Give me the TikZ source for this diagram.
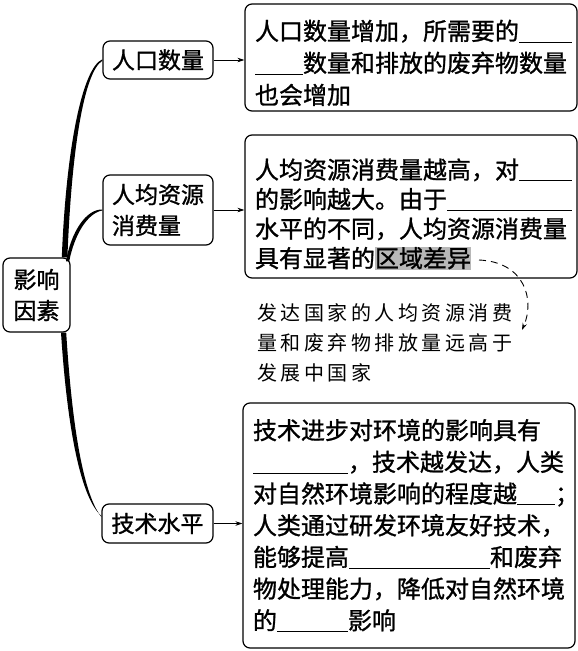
\documentclass[tikz,border=0pt]{standalone}
\usepackage{fontspec}
\setmainfont[FakeBold=1.1]{Noto Sans CJK SC}
\newfontfamily\annfont[LetterSpace=17.5]{Noto Sans CJK SC}
\usetikzlibrary{arrows.meta,calc}
\definecolor{hlgray}{gray}{0.72}
\newcommand\blank[1]{\rule[-2.5pt]{#1}{0.8pt}}
\newcommand\hlbox[1]{{\setlength\fboxsep{0pt}\colorbox{hlgray}{\rule[-3pt]{0pt}{22pt}#1}}}
\newcommand\lift[1]{\rule{0pt}{#1}}
\begin{document}
\begin{tikzpicture}[x=1pt,y=-1pt,
  every node/.style={inner sep=0pt},
  frame/.style={draw, line width=1.2pt, rounded corners=7pt, fill=white},
  keynode/.style={frame, font=\fontsize{23}{31}\selectfont, align=left},
  infobox/.style={frame, inner xsep=10pt, text width=312pt, align=left},
  link/.style={line width=0.9pt, -{Stealth[length=7pt,width=4.5pt]}},
  branch/.style={fill=black},
  note/.style={line width=0.9pt, dash pattern=on 7pt off 5pt, -{Stealth[length=7pt,width=4.5pt]}}
]
\useasboundingbox (0,0) rectangle (578,651);

% key nodes
\node[keynode, minimum width=67pt, minimum height=74pt] (root) at (36.5,295) {影响\\因素};
\node[keynode, minimum width=110pt, minimum height=38pt] (n1) at (158,60) {人口数量};
\node[keynode, minimum width=110pt, minimum height=70pt, text width=92pt] (n2) at (158,210) {人均资源\\消费量};
\node[keynode, minimum width=111pt, minimum height=39pt] (n3) at (157.5,523.5) {技术水平};

% info boxes
\node[infobox, minimum height=107pt, font=\fontsize{24}{32}\selectfont] (b1) at (411,57.5)
  {\lift{31pt}人口数量增加，所需要的\blank{53pt}\\
   \blank{48pt}数量和排放的废弃物数量\\
   也会增加};
\node[infobox, minimum height=143pt, font=\fontsize{24}{29.5}\selectfont] (b2) at (411,206.5)
  {\lift{36pt}人均资源消费量越高，对\blank{53pt}\\
   的影响越大。由于\blank{125pt}\\
   水平的不同，人均资源消费量\\
   具有显著的\hlbox{区域差异}};
\node[infobox, minimum height=245pt, font=\fontsize{24}{31.7}\selectfont] (b3) at (409,525.5)
  {技术进步对环境的影响具有\\
   \blank{95pt}，技术越发达，人类\\
   对自然环境影响的程度越\blank{38pt}\makebox[12pt][l]{；}\\
   人类通过研发环境友好技术，\\
   能够提高\blank{141pt}和废弃\\
   物处理能力，降低对自然环境\\
   的\blank{71pt}影响};

% annotation
\node[anchor=west, align=left, font=\annfont\fontsize{20}{30}\selectfont] (ann) at (257,343)
  {发达国家的人均资源消费\\量和废弃物排放量远高于\\发展中国家};

% tapered branches
\coordinate (s1) at ($(root.north east)+(-6,0)$);
\coordinate (s2) at ($(root.north east)+(-3,4)$);
\coordinate (s3) at ($(root.south east)+(-7,0)$);
\fill[branch] ($(s1)+(-2.8,0)$) .. controls (66,150) and (82,68) .. ($(n1.west)+(0,-0.7)$)
  -- ($(n1.west)+(0,0.7)$) .. controls (84,72) and (71.5,150) .. ($(s1)+(2.8,0)$) -- cycle;
\fill[branch] ($(s2)+(-1.6,0)$) .. controls (71,232) and (86,209) .. ($(n2.west)+(0,-0.5)$)
  -- ($(n2.west)+(0,0.5)$) .. controls (87,213) and (74,236) .. ($(s2)+(1.6,0)$) -- cycle;
\fill[branch] ($(s3)+(-2.6,0)$) .. controls (67,425) and (80,497) .. ($(n3.west)+(0,-7.5)$)
  -- ($(n3.west)+(0,-6.5)$) .. controls (83,494) and (72,425) .. ($(s3)+(2.6,0)$) -- cycle;

% arrows
\draw[link] (n1.east) -- (n1.east -| b1.west);
\draw[link] (n2.east) -- (n2.east -| b2.west);
\draw[link] (n3.east) -- (n3.east -| b3.west);

% dashed note arrow
\coordinate (dstart) at (479,260);
\coordinate (dend) at (522,330);
\draw[note] (dstart) .. controls (525,262) and (535,300) .. (dend);
\end{tikzpicture}
\end{document}
